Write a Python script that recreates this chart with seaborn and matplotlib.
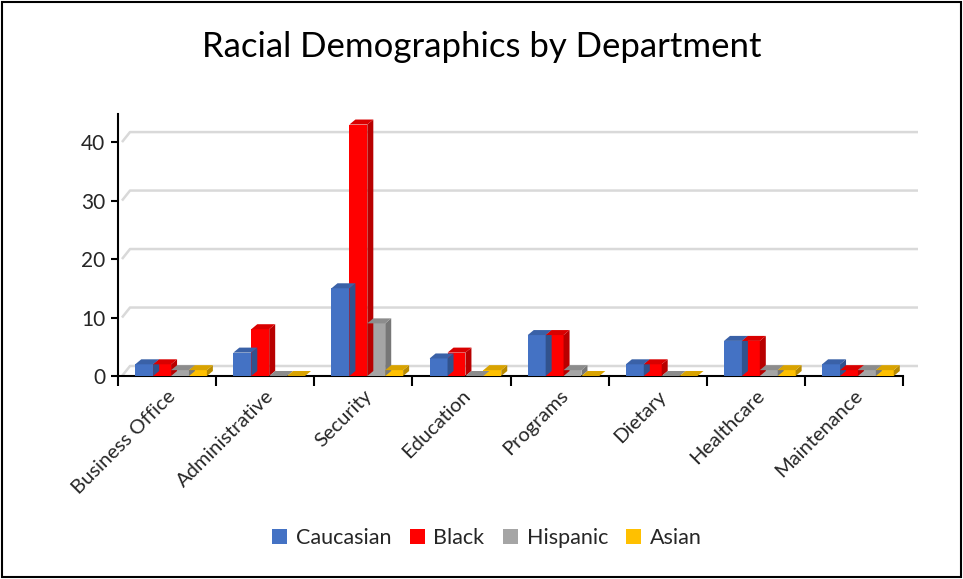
import matplotlib
matplotlib.use("Agg")
import matplotlib.pyplot as plt
import seaborn as sns
import pandas as pd
import numpy as np
from matplotlib.patches import Polygon, Patch, Rectangle
import matplotlib.colors as mcolors

departments = ["Business Office", "Administrative", "Security", "Education",
               "Programs", "Dietary", "Healthcare", "Maintenance"]
caucasian = [2, 4, 15, 3, 7, 2, 6, 2]
black = [2, 8, 43, 4, 7, 2, 6, 1]
hispanic = [1, 0, 9, 0, 1, 0, 1, 1]
asian = [1, 0, 1, 1, 0, 0, 1, 1]
races = ["Caucasian", "Black", "Hispanic", "Asian"]
colors = ["#4472C4", "#FF0000", "#A5A5A5", "#FFC000"]
yticks = [0, 10, 20, 30, 40]

rows = []
for race, vals in zip(races, [caucasian, black, hispanic, asian]):
    for d, v in zip(departments, vals):
        rows.append({"Department": d, "Race": race, "Count": v})
df = pd.DataFrame(rows)

sns.set_theme(style="white")
plt.rcParams["font.family"] = ["Lato", "DejaVu Sans"]

W, H = 963, 579
fig = plt.figure(figsize=(W / 100, H / 100), dpi=100)
ax = fig.add_axes([118 / W, 1 - 376 / H, (903 - 118) / W, (376 - 114) / H])

sns.barplot(data=df, x="Department", y="Count", hue="Race", hue_order=races,
            order=departments, palette=colors, width=0.73, gap=0,
            saturation=1, legend=False, ax=ax, zorder=3, linewidth=0)

ax.set_xlim(-0.5, len(departments) - 0.5)
ax.set_ylim(0, 44.8)

ax_w_px = (903 - 118)
ax_h_px = (376 - 114)
ux = (ax.get_xlim()[1] - ax.get_xlim()[0]) / ax_w_px
uy = (ax.get_ylim()[1] - ax.get_ylim()[0]) / ax_h_px

# 3D-like faces on bars
bdx, bdy = 6 * ux, 5 * uy
shift = 4 * ux
for cont, col in zip(ax.containers, colors):
    base = np.array(mcolors.to_rgb(col))
    side = base * 0.72
    top = base * 0.85
    for p in cont.patches:
        p.set_x(p.get_x() + shift)
        x0 = p.get_x()
        w = p.get_width()
        h = p.get_height()
        x1 = x0 + w
        ax.add_patch(Polygon([(x1, 0), (x1, h), (x1 + bdx, h + bdy), (x1 + bdx, bdy)],
                             closed=True, facecolor=side, edgecolor="none", zorder=3))
        ax.add_patch(Polygon([(x0, h), (x1, h), (x1 + bdx, h + bdy), (x0 + bdx, h + bdy)],
                             closed=True, facecolor=top, edgecolor="none", zorder=3))

# back-wall gridlines
gdx, gdy = 12 * ux, 10 * uy
xl0, xl1 = ax.get_xlim()
for v in yticks:
    ax.plot([xl0 + 4 * ux, xl0 + gdx, xl1 + 15 * ux], [v, v + gdy, v + gdy],
            color="#D9D9D9", lw=1.8, zorder=1, clip_on=False,
            solid_capstyle="butt")

ax.set_yticks(yticks)
ax.set_yticklabels([str(v) for v in yticks], fontsize=15)
ax.set_xticks(range(len(departments)))
ax.set_xticklabels(departments, rotation=45, ha="right", rotation_mode="anchor",
                   fontsize=14.5)
ax.set_xticks(np.arange(-0.5, len(departments), 1), minor=True)
ax.tick_params(axis="x", which="major", length=0, pad=8)
ax.tick_params(axis="x", which="minor", length=7, width=1.5, color="black",
               direction="out", bottom=True)
ax.tick_params(axis="y", length=5, width=1.5, color="black", direction="out",
               left=True, pad=4)
ax.set_xlabel("")
ax.set_ylabel("")
for s in ["top", "right"]:
    ax.spines[s].set_visible(False)
for s in ["left", "bottom"]:
    ax.spines[s].set_color("black")
    ax.spines[s].set_linewidth(1.5)
ax.patch.set_alpha(0)

fig.text(0.5, 1 - 47 / H, "Racial Demographics by Department", ha="center",
         va="center", fontsize=25, color="black")

handles = [Patch(facecolor=c, edgecolor="none", label=r) for r, c in zip(races, colors)]
fig.legend(handles=handles, loc="center", bbox_to_anchor=(487 / W, 1 - 538 / H),
           ncol=4, frameon=False, fontsize=15.5, handlelength=0.7, handleheight=0.7,
           handletextpad=0.4, columnspacing=0.85)

fig.patches.append(Rectangle((2 / W, 2 / H), 1 - 4 / W, 1 - 4 / H,
                             transform=fig.transFigure, fill=False,
                             edgecolor="black", linewidth=1.5))

fig.savefig("out.png", dpi=100)
